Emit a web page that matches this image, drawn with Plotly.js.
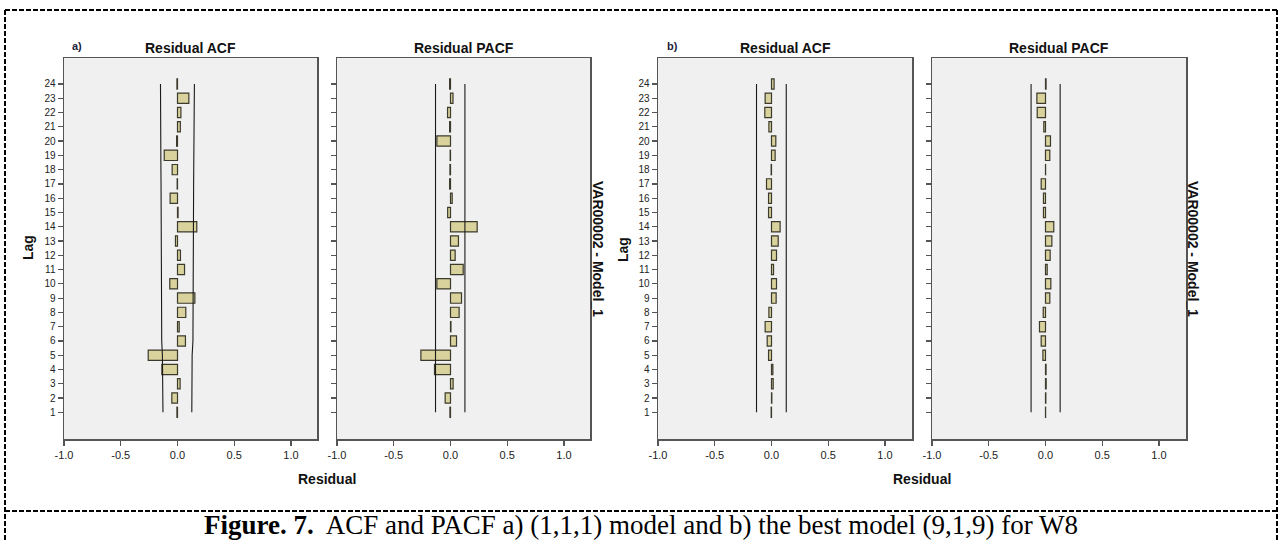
<!DOCTYPE html>
<html>
<head>
<meta charset="utf-8">
<script src="https://cdn.plot.ly/plotly-3.0.1.min.js"></script>
<style>html,body{margin:0;padding:0;background:#fff;}#chart{width:1280px;height:541px;}</style>
</head>
<body>
<div id="chart"></div>
<script>
// ---- data ----
var lags = [1,2,3,4,5,6,7,8,9,10,11,12,13,14,15,16,17,18,19,20,21,22,23,24];
var acfA  = [-0.005,-0.050,0.023,-0.138,-0.258,0.070,0.015,0.073,0.153,-0.068,0.062,0.026,-0.018,0.170,0.005,-0.065,-0.003,-0.047,-0.117,-0.008,0.025,0.030,0.100,-0.005];
var pacfA = [-0.005,-0.047,0.023,-0.141,-0.261,0.053,0.004,0.076,0.097,-0.120,0.112,0.041,0.070,0.235,-0.025,0.015,-0.008,-0.005,-0.003,-0.120,-0.008,-0.026,0.022,-0.008];
var acfB  = [-0.003,0.003,0.015,0.012,-0.026,-0.038,-0.056,-0.023,0.041,0.044,0.018,0.044,0.059,0.076,-0.026,-0.026,-0.044,-0.003,0.032,0.038,-0.023,-0.059,-0.056,0.023];
var pacfB = [0.001,0.003,0.006,0.005,-0.023,-0.038,-0.053,-0.020,0.038,0.047,0.015,0.041,0.056,0.073,-0.018,-0.018,-0.038,0.001,0.038,0.044,-0.015,-0.073,-0.076,0.005];
var acfALower = [-0.128,-0.128,-0.128,-0.130,-0.133,-0.139,-0.139,-0.139,-0.140,-0.141,-0.141,-0.142,-0.142,-0.143,-0.145,-0.145,-0.145,-0.146,-0.146,-0.147,-0.147,-0.148,-0.148,-0.150];
var acfAUpper = [0.126,0.126,0.126,0.127,0.129,0.136,0.136,0.136,0.137,0.138,0.138,0.139,0.139,0.140,0.142,0.142,0.142,0.143,0.144,0.145,0.145,0.146,0.147,0.149];
var pacfALimit = [-0.132, 0.127];
var acfBLimit  = [-0.132, 0.130];
var pacfBLimit = [-0.127, 0.129];
var xTickVals = [-1.0,-0.5,0.0,0.5,1.0];
var xTickText = ["-1.0","-0.5","0.0","0.5","1.0"];
var panelTitles = ["Residual ACF","Residual PACF","Residual ACF","Residual PACF"];

// ---- helpers ----
var W = 1280, H = 541;
function px(x){ return x / W; }
function py(y){ return 1 - y / H; }
var barFill = '#d9d29c', barLine = '#3b3a2c';
function constArr(v){ return lags.map(function(){ return v; }); }

var panels = [
  {vals: acfA,  lo: acfALower, hi: acfAUpper, x0: 64,  x1: 317},
  {vals: pacfA, lo: constArr(pacfALimit[0]), hi: constArr(pacfALimit[1]), x0: 337, x1: 590},
  {vals: acfB,  lo: constArr(acfBLimit[0]),  hi: constArr(acfBLimit[1]),  x0: 658, x1: 912},
  {vals: pacfB, lo: constArr(pacfBLimit[0]), hi: constArr(pacfBLimit[1]), x0: 932, x1: 1186}
];
var yTop = 58, yBot = 439;
var unitPx = 113.5;

var traces = [];
var layout = {
  width: W, height: H,
  margin: {l:0, r:0, t:0, b:0},
  paper_bgcolor: '#ffffff',
  plot_bgcolor: 'rgba(0,0,0,0)',
  showlegend: false,
  font: {family: 'Liberation Sans, Arial, sans-serif', color: '#111'},
  annotations: [],
  shapes: []
};

panels.forEach(function(p, i){
  var n = i + 1;
  var xa = n === 1 ? 'x' : 'x' + n;
  var ya = n === 1 ? 'y' : 'y' + n;
  traces.push({
    type: 'bar', orientation: 'h', x: p.vals, y: lags, xaxis: xa, yaxis: ya,
    width: 0.72, base: 0,
    marker: {color: barFill, line: {color: barLine, width: 1.2}},
    hoverinfo: 'x+y'
  });
  traces.push({type:'scatter', mode:'lines', x: p.lo, y: lags, xaxis: xa, yaxis: ya,
    line: {color: '#1a1a1a', width: 1.1}, hoverinfo: 'skip'});
  traces.push({type:'scatter', mode:'lines', x: p.hi, y: lags, xaxis: xa, yaxis: ya,
    line: {color: '#1a1a1a', width: 1.1}, hoverinfo: 'skip'});

  var zeroPx = p.x0 + unitPx; // -1.0 at left edge
  var xmax = (p.x1 - zeroPx) / unitPx;
  var xKey = n === 1 ? 'xaxis' : 'xaxis' + n;
  var yKey = n === 1 ? 'yaxis' : 'yaxis' + n;
  layout[xKey] = {
    domain: [px(p.x0), px(p.x1)], anchor: ya, range: [-1.0, xmax],
    tickvals: xTickVals, ticktext: xTickText, ticks: 'outside', ticklen: 5, tickwidth: 1.2,
    tickcolor: '#555', tickfont: {size: 11, color: '#222'},
    showline: true, linecolor: '#555', linewidth: 1.5, mirror: true,
    showgrid: false, zeroline: false, fixedrange: true
  };
  layout[yKey] = {
    domain: [py(yBot), py(yTop)], anchor: xa, range: [-0.87, 25.82],
    tickvals: lags, ticks: 'outside', ticklen: 5, tickwidth: 1.2, tickcolor: '#555',
    tickfont: {size: 10, color: '#222'},
    showticklabels: (i === 0 || i === 2),
    showline: true, linecolor: '#555', linewidth: 1.5, mirror: true,
    showgrid: false, zeroline: false, fixedrange: true
  };
  // panel background
  layout.shapes.push({type:'rect', xref:'paper', yref:'paper', layer:'below',
    x0: px(p.x0), x1: px(p.x1), y0: py(yBot), y1: py(yTop),
    fillcolor: '#f0f0f0', line: {width: 0}});
  // title
  layout.annotations.push({xref:'paper', yref:'paper', x: px((p.x0+p.x1)/2), y: py(48),
    text: '<b>' + panelTitles[i] + '</b>', showarrow:false, xanchor:'center', yanchor:'middle',
    font: {size: 14, color: '#111'}});
});

// Lag, Residual, side labels
[{x:28, y:248},{x:623, y:250}].forEach(function(p){
  layout.annotations.push({xref:'paper', yref:'paper', x: px(p.x), y: py(p.y), text:'<b>Lag</b>',
    textangle: -90, showarrow:false, xanchor:'center', yanchor:'middle', font:{size:14, color:'#111'}});
});
[{x:327},{x:922}].forEach(function(p){
  layout.annotations.push({xref:'paper', yref:'paper', x: px(p.x), y: py(479), text:'<b>Residual</b>',
    showarrow:false, xanchor:'center', yanchor:'middle', font:{size:14, color:'#111'}});
});
[{x:598},{x:1193}].forEach(function(p){
  layout.annotations.push({xref:'paper', yref:'paper', x: px(p.x), y: py(249), text:'<b>VAR00002 - Model_1</b>',
    textangle: 90, showarrow:false, xanchor:'center', yanchor:'middle', font:{size:14, color:'#111'}});
});
[{x:77, t:'a)'},{x:672, t:'b)'}].forEach(function(p){
  layout.annotations.push({xref:'paper', yref:'paper', x: px(p.x), y: py(46), text:'<b>'+p.t+'</b>',
    showarrow:false, xanchor:'center', yanchor:'middle', font:{size:11, color:'#1b1b3a'}});
});
// caption
layout.annotations.push({xref:'paper', yref:'paper', x: px(641), y: py(540.5),
  text: '<b>Figure. 7.</b>  ACF and PACF a) (1,1,1) model and b) the best model (9,1,9) for W8',
  showarrow:false, xanchor:'center', yanchor:'bottom', borderpad: 0,
  font:{family:'Liberation Serif, Times New Roman, serif', size:27, color:'#000'}});

// dashed frame
var frameLine = {color:'#000', width:2, dash:'5px,2px'};
layout.shapes.push({type:'line', xref:'paper', yref:'paper', x0: px(5), x1: px(1277), y0: py(10), y1: py(10), line: frameLine});
layout.shapes.push({type:'line', xref:'paper', yref:'paper', x0: px(5), x1: px(5), y0: py(10), y1: py(541), line: frameLine});
layout.shapes.push({type:'line', xref:'paper', yref:'paper', x0: px(1277), x1: px(1277), y0: py(10), y1: py(541), line: frameLine});
layout.shapes.push({type:'line', xref:'paper', yref:'paper', x0: px(5), x1: px(1277), y0: py(511), y1: py(511), line: frameLine});

Plotly.newPlot('chart', traces, layout, {displayModeBar: false, staticPlot: true});
</script>
</body>
</html>
